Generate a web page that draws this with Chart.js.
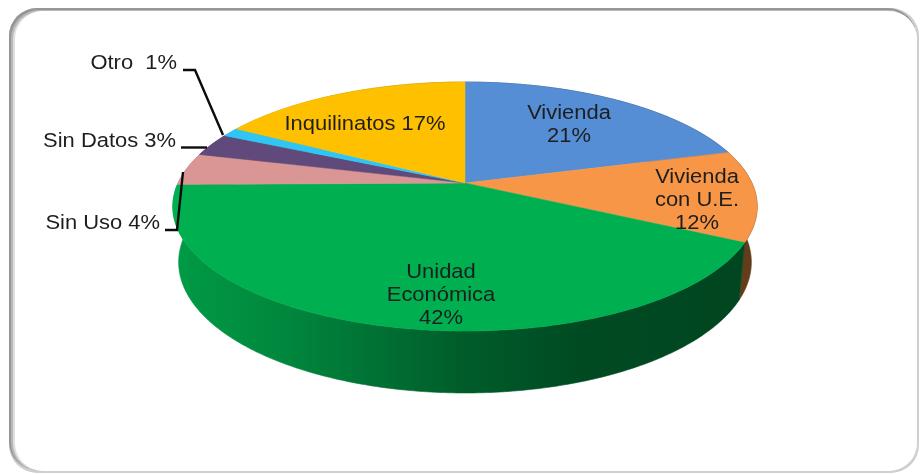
<!DOCTYPE html>
<html><head><meta charset="utf-8">
<style>html,body{margin:0;padding:0;background:#fff}#w{width:920px;height:474px;position:relative}</style>
<script src="https://cdn.jsdelivr.net/npm/chart.js@4"></script>
</head><body><div id="w"><canvas id="c" width="920" height="474"></canvas></div>
<script>
const categories = ["Vivienda", "Vivienda con U.E.", "Unidad Económica", "Sin Uso", "Sin Datos", "Otro", "Inquilinatos"];
const values = [20.7, 11.8, 42.3, 4.2, 3.0, 1.2, 16.8];
const sliceColors = ["#558ED5", "#F79646", "#00B050", "#D99694", "#604A7B", "#2FC6F6", "#FFC000"];

const FONT = '20.5px "Liberation Sans", Arial, sans-serif';
const TEXT_STRETCH = 1.07;
const labelLayout = [
  {lines:["Vivienda","{p}"], x:569, y:113, align:"center"},
  {lines:["Vivienda","con U.E.","{p}"], x:697, y:177, align:"center"},
  {lines:["Unidad","Económica","{p}"], x:441, y:272, align:"center"},
  {lines:["Sin Uso {p}"], x:160, y:223, align:"right"},
  {lines:["Sin Datos {p}"], x:176, y:141, align:"right"},
  {lines:["Otro  {p}"], x:177, y:63, align:"right"},
  {lines:["Inquilinatos {p}"], x:365, y:124, align:"center"}
];
const leaders = [
  [[183,70],[195,70],[223,135]],
  [[181,147.5],[207,147.5]],
  [[165,230],[177,230],[183,172]]
];

function rgb(hex){return [1,3,5].map(i=>parseInt(hex.substr(i,2),16));}
function shade(hex,f){return "rgb("+rgb(hex).map(v=>Math.round(v*f)).join(",")+")";}

const K = 0.189;
function proj(arc,ang,wall){
  const X=Math.cos(ang),Y=Math.sin(ang),R=arc.outerRadius;
  const d=1-K*Y;
  let x=R*1.568*X/d, y=R*0.656*Y/d;
  if(wall){x*=0.98; y=y*1.05+R*0.298;}
  return [arc.x+x,arc.y+y];
}
function arcPts(arc,wall){
  const n=Math.max(4,Math.ceil((arc.endAngle-arc.startAngle)*80)),p=[];
  for(let i=0;i<=n;i++)p.push(proj(arc,arc.startAngle+(arc.endAngle-arc.startAngle)*i/n,wall));
  return p;
}
const pie3d={
  id:"pie3d",
  beforeDraw(chart){
    const c=chart.ctx;
    c.save();
    const box=(x,y,w,h,col)=>{c.beginPath();c.roundRect(x,y,w,h,28);c.fillStyle=col;c.fill();};
    box(9,8,910,465,"#cfcfcf");
    box(9,8,907,462,"#969696");
    box(11,10,905,461,"#b8b8b8");
    box(13,11,904,460,"#e0e0e0");
    box(15,11,902,460,"#ffffff");
    c.restore();
  },
  beforeDatasetDraw(chart,args){
    const c=chart.ctx, arcs=chart.getDatasetMeta(args.index).data;
    c.save();
    // side walls
    arcs.forEach((arc,i)=>{
      const top=arcPts(arc,false), bot=arcPts(arc,true).reverse();
      const g=c.createLinearGradient(172,0,757,0), col=sliceColors[i];
      [[0,.88],[.2,.76],[.4,.6],[.5,.52],[.7,.42],[1,.40]].forEach(s=>g.addColorStop(s[0],shade(col,s[1])));
      c.beginPath();
      top.concat(bot).forEach((p,j)=>j?c.lineTo(p[0],p[1]):c.moveTo(p[0],p[1]));
      c.closePath();
      c.fillStyle=g;c.strokeStyle=g;c.lineWidth=.6;c.fill();c.stroke();
    });
    // top faces
    arcs.forEach((arc,i)=>{
      c.beginPath();c.moveTo(arc.x,arc.y);
      arcPts(arc,false).forEach(p=>c.lineTo(p[0],p[1]));
      c.closePath();
      c.fillStyle=sliceColors[i];c.strokeStyle=sliceColors[i];c.lineWidth=.5;c.fill();c.stroke();
    });
    c.restore();
    return false;
  },
  afterDraw(chart){
    const c=chart.ctx;
    c.save();
    c.strokeStyle="#0c0c0c";c.lineWidth=2.4;c.lineJoin="miter";
    leaders.forEach(l=>{c.beginPath();l.forEach((p,j)=>j?c.lineTo(p[0],p[1]):c.moveTo(p[0],p[1]));c.stroke();});
    c.font=FONT;c.fillStyle="#1e1e1e";c.textBaseline="middle";
    labelLayout.forEach((l,i)=>{
      c.textAlign=l.align;
      l.lines.forEach((t,j)=>{
        c.save();
        c.translate(l.x,l.y+j*23.3);
        c.scale(TEXT_STRETCH,1);
        c.fillText(t.replace("{p}",Math.round(values[i])+"%"),0,0);
        c.restore();
      });
    });
    c.restore();
  }
};
new Chart(document.getElementById("c"),{
  type:"pie",
  data:{labels:categories,datasets:[{data:values,backgroundColor:sliceColors,borderWidth:0}]},
  options:{
    responsive:false,animation:false,
    layout:{padding:{left:10,right:0,top:0,bottom:108}},
    plugins:{legend:{display:false},tooltip:{enabled:false}}
  },
  plugins:[pie3d]
});
</script></body></html>
